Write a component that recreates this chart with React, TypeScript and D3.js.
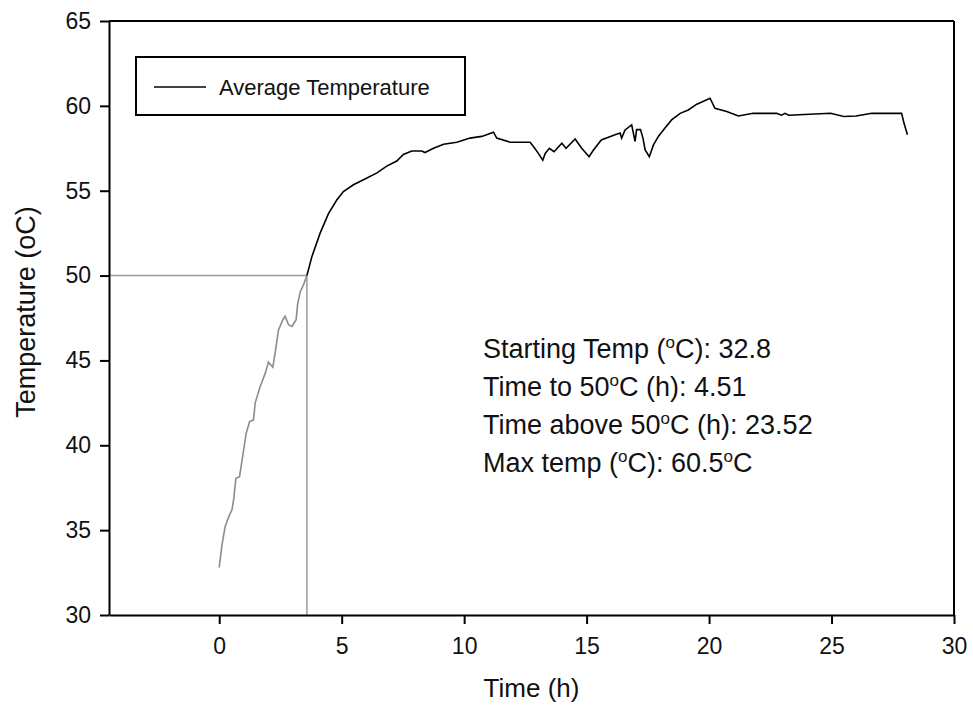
import React, { useEffect, useRef } from "react";
import * as d3 from "d3";

// Time (h) and average temperature (°C)
const times: number[] = [
  0.0, 0.11, 0.24, 0.42, 0.52, 0.59, 0.68, 0.83, 0.93, 1.1, 1.24, 1.4, 1.47, 1.67, 1.88, 2.01, 2.19, 2.29,
  2.42, 2.6, 2.69, 2.83, 2.97, 3.14, 3.2, 3.31, 3.44, 3.58,
  3.78, 4.12, 4.46, 4.8, 5.07, 5.48, 5.89, 6.44, 6.84, 7.25, 7.52, 7.86, 8.27, 8.4, 8.75, 9.16, 9.7,
  10.24, 10.72, 11.2, 11.33, 11.88, 12.69, 12.83, 13.03, 13.21, 13.31, 13.48, 13.67, 13.99, 14.16,
  14.53, 14.8, 15.1, 15.28, 15.6, 16.16, 16.37, 16.43, 16.57, 16.84, 16.98, 17.04, 17.2, 17.3, 17.39,
  17.56, 17.73, 17.93, 18.2, 18.47, 18.82, 19.15, 19.5, 20.04, 20.24, 20.72, 21.2, 21.8, 22.76, 22.96,
  23.1, 23.25, 24.96, 25.5, 26.0, 26.64, 27.86, 27.96, 28.1,
];
const temps: number[] = [
  32.8, 34.1, 35.2, 35.9, 36.2, 36.8, 38.05, 38.15, 39.1, 40.7, 41.4, 41.5, 42.5, 43.45, 44.25, 44.9, 44.6, 45.5,
  46.8, 47.4, 47.6, 47.1, 47.0, 47.4, 48.3, 49.05, 49.45, 50.0,
  51.1, 52.5, 53.65, 54.45, 54.95, 55.35, 55.65, 56.05, 56.45, 56.75, 57.14, 57.34, 57.34, 57.25, 57.5, 57.74, 57.86,
  58.1, 58.2, 58.45, 58.1, 57.86, 57.86, 57.6, 57.2, 56.8, 57.2, 57.5, 57.3, 57.8, 57.5,
  58.05, 57.5, 57.0, 57.4, 57.99, 58.3, 58.4, 58.1, 58.58, 58.88, 57.9, 58.6, 58.6, 58.1, 57.4,
  57.0, 57.7, 58.2, 58.7, 59.17, 59.56, 59.76, 60.1, 60.45, 59.86, 59.67, 59.4, 59.56, 59.56, 59.45,
  59.56, 59.45, 59.56, 59.37, 59.4, 59.56, 59.56, 58.97, 58.3,
];

const xTicks: number[] = [0, 5, 10, 15, 20, 25, 30];
const yTicks: number[] = [30, 35, 40, 45, 50, 55, 60, 65];
const thresholdTemp = 50;
const thresholdTime = 3.58;
const legendLabel = "Average Temperature";
const xTitle = "Time (h)";
const yTitle = "Temperature (oC)";
const annotations: { pre: string; sup: string; post: string; sup2?: string; post2?: string }[] = [
  { pre: "Starting Temp (", sup: "o", post: "C): 32.8" },
  { pre: "Time to 50", sup: "o", post: "C (h): 4.51" },
  { pre: "Time above 50", sup: "o", post: "C (h): 23.52" },
  { pre: "Max temp (", sup: "o", post: "C): 60.5", sup2: "o", post2: "C" },
];

const W = 973;
const H = 719;
const L = 109, R = 954, T = 21, B = 615;
const FONT = "'Liberation Sans', Arial, sans-serif";

export default function App() {
  const ref = useRef<SVGSVGElement | null>(null);

  useEffect(() => {
    const svg = d3.select(ref.current);
    svg.selectAll("*").remove();

    const x = d3.scaleLinear().domain([-4.5, 30]).range([L, R]);
    const y = d3.scaleLinear().domain([30, 65]).range([B, T]);

    const data = times.map((t, i) => ({ t, v: temps[i] }));
    const before = data.filter((d) => d.t <= thresholdTime);
    const after = data.filter((d) => d.t >= thresholdTime);

    // guide lines
    const g = svg.append("g");
    g.append("line")
      .attr("x1", x(-4.5)).attr("x2", x(thresholdTime))
      .attr("y1", y(thresholdTemp)).attr("y2", y(thresholdTemp))
      .attr("stroke", "#9a9a9a").attr("stroke-width", 1.5);
    g.append("line")
      .attr("x1", x(thresholdTime)).attr("x2", x(thresholdTime))
      .attr("y1", y(30)).attr("y2", y(thresholdTemp))
      .attr("stroke", "#9a9a9a").attr("stroke-width", 1.5);

    const line = d3.line<{ t: number; v: number }>().x((d) => x(d.t)).y((d) => y(d.v));
    g.append("path").attr("d", line(before)).attr("fill", "none")
      .attr("stroke", "#8c8c8c").attr("stroke-width", 1.6);
    g.append("path").attr("d", line(after)).attr("fill", "none")
      .attr("stroke", "#000").attr("stroke-width", 1.6);

    // frame top and right
    svg.append("line").attr("x1", L).attr("x2", R).attr("y1", T).attr("y2", T)
      .attr("stroke", "#000").attr("stroke-width", 2);
    svg.append("line").attr("x1", R).attr("x2", R).attr("y1", T).attr("y2", B)
      .attr("stroke", "#000").attr("stroke-width", 2);

    // axes
    const xAxis = d3.axisBottom(x).tickValues(xTicks).tickSize(9).tickPadding(14).tickSizeOuter(0);
    const gx = svg.append("g").attr("transform", `translate(0,${B})`).call(xAxis);
    const yAxis = d3.axisLeft(y).tickValues(yTicks).tickSize(9).tickPadding(9).tickSizeOuter(0);
    const gy = svg.append("g").attr("transform", `translate(${L},0)`).call(yAxis);
    [gx, gy].forEach((ax) => {
      ax.select(".domain").attr("stroke", "#000").attr("stroke-width", 2);
      ax.selectAll(".tick line").attr("stroke", "#000").attr("stroke-width", 2);
      ax.selectAll(".tick text").attr("fill", "#111").style("font-family", FONT).style("font-size", "23px");
    });
    gx.selectAll(".tick text").attr("dy", "0.71em");

    // axis titles
    svg.append("text").attr("x", (L + R) / 2).attr("y", 697).attr("text-anchor", "middle")
      .style("font-family", FONT).style("font-size", "26px").attr("fill", "#111").text(xTitle);
    svg.append("text").attr("transform", `translate(35,312) rotate(-90)`).attr("text-anchor", "middle")
      .style("font-family", FONT).style("font-size", "27px").attr("fill", "#111").text(yTitle);

    // legend
    const lg = svg.append("g");
    lg.append("rect").attr("x", 136).attr("y", 57).attr("width", 329).attr("height", 58)
      .attr("fill", "#fff").attr("stroke", "#000").attr("stroke-width", 2);
    lg.append("line").attr("x1", 154).attr("x2", 206).attr("y1", 87).attr("y2", 87)
      .attr("stroke", "#000").attr("stroke-width", 1.6);
    lg.append("text").attr("x", 219).attr("y", 95).style("font-family", FONT).style("font-size", "22px")
      .attr("fill", "#111").text(legendLabel);

    // annotations
    annotations.forEach((a, i) => {
      const t = svg.append("text").attr("x", 483).attr("y", 358 + i * 38)
        .style("font-family", FONT).style("font-size", "27px").attr("fill", "#111");
      t.append("tspan").text(a.pre);
      t.append("tspan").attr("dy", -10).style("font-size", "17px").text(a.sup);
      t.append("tspan").attr("dy", 10).text(a.post);
      if (a.sup2) {
        t.append("tspan").attr("dy", -10).style("font-size", "17px").text(a.sup2);
        t.append("tspan").attr("dy", 10).text(a.post2 || "");
      }
    });
  }, []);

  return (
    <svg ref={ref} width={W} height={H}
      style={{ position: "absolute", left: 0, top: 0, background: "#fff" }} />
  );
}
